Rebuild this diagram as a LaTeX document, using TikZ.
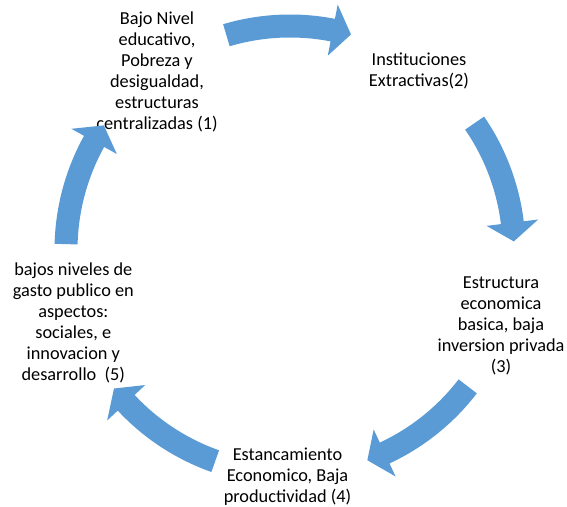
\documentclass[tikz,border=0pt]{standalone}
\usepackage{fontspec}
\setmainfont{Carlito}
\definecolor{arrowblue}{HTML}{5B9BD5}
\begin{document}
\begin{tikzpicture}[x=1pt,y=1pt,
  lbl/.style={align=center, inner sep=0pt, text=black, font=\fontsize{18.3}{21}\selectfont},
  cyc/.style={fill=arrowblue}]
\useasboundingbox (0,0) rectangle (567,506);
% text nodes
\node[lbl] (n1) at (157,434) {Bajo Nivel\\educativo,\\Pobreza y\\desigualdad,\\estructuras\\centralizadas (1)};
\node[lbl] (n2) at (419,435) {Instituciones\\Extractivas(2)};
\node[lbl] (n3) at (501,180) {Estructura\\economica\\basica, baja\\inversion privada\\(3)};
\node[lbl] (n4) at (287.5,29.5) {Estancamiento\\Economico, Baja\\productividad (4)};
\node[lbl] (n5) at (73.3,183) {bajos niveles de\\gasto publico en\\aspectos:\\sociales, e\\innovacion y\\desarrollo~ (5)};
% cycle arrows
\begin{scope}[shift={(290,256)}]
\foreach \i in {0,...,4}{
  \pgfmathsetmacro\ta{106.5-72*\i}
  \pgfmathsetmacro\hb{79-72*\i}
  \pgfmathsetmacro\tp{74.2-72*\i}
  \fill[cyc] (\ta:212.5pt) arc[start angle=\ta, end angle=\hb, radius=212.5pt]
    -- (\hb:198pt) -- (\tp:224pt) -- (\hb:250pt) -- (\hb:235.5pt)
    arc[start angle=\hb, end angle=\ta, radius=235.5pt] -- cycle;
}
\end{scope}
\end{tikzpicture}
\end{document}
